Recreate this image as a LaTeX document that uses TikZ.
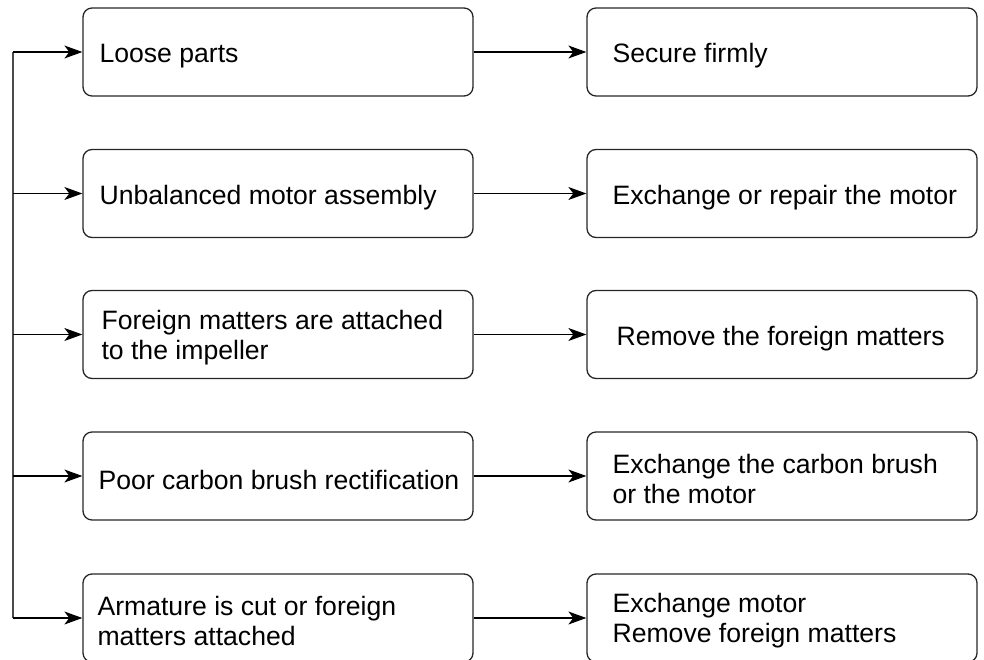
\documentclass[tikz,border=0pt]{standalone}
\usepackage{fontspec}
\setmainfont{Liberation Sans}
\usetikzlibrary{arrows.meta}
\begin{document}
\begin{tikzpicture}[x=1pt,y=-1pt,
  box/.style={draw=black!85, line width=1.3pt, rounded corners=9pt, minimum width=390pt, minimum height=88pt, inner sep=0pt},
  txt/.style={anchor=west, align=left, inner sep=0pt, font=\fontsize{26.6}{30}\selectfont},
  arr/.style={line width=1.1pt, -{Stealth[length=18pt, width=13pt, inset=5pt]}},
  trunk/.style={line width=1.1pt, draw=black!70}]
\useasboundingbox (0,0) rectangle (984,660);
% left boxes
\node[box] (l1) at (278,52) {};
\node[box] (l2) at (278,193.5) {};
\node[box] (l3) at (278,334.5) {};
\node[box] (l4) at (278,476) {};
\node[box] (l5) at (278,618) {};
% right boxes
\node[box] (r1) at (782,52) {};
\node[box] (r2) at (782,193.5) {};
\node[box] (r3) at (782,334.5) {};
\node[box] (r4) at (782,476) {};
\node[box] (r5) at (782,618) {};
% texts
\node[txt] (lt1) at ([xshift=17pt,yshift=-4pt]l1.west) {Loose parts};
\node[txt] (lt2) at ([xshift=17pt,yshift=-4pt]l2.west) {Unbalanced motor assembly};
\node[txt] (lt3) at ([xshift=19pt,yshift=-3pt]l3.west) {Foreign matters are attached\\to the impeller};
\node[txt] (lt4) at ([xshift=16pt,yshift=-4pt]l4.west) {Poor carbon brush rectification};
\node[txt] (lt5) at ([xshift=15pt,yshift=-3pt]l5.west) {Armature is cut or foreign\\matters attached};
\node[txt] (rt1) at ([xshift=26pt,yshift=-4pt]r1.west) {Secure firmly};
\node[txt] (rt2) at ([xshift=26pt,yshift=-4pt]r2.west) {Exchange or repair the motor};
\node[txt] (rt3) at ([xshift=30pt,yshift=-4pt]r3.west) {Remove the foreign matters};
\node[txt] (rt4) at ([xshift=26pt,yshift=-3pt]r4.west) {Exchange the carbon brush\\or the motor};
\node[txt] (rt5) at ([xshift=26pt,yshift=-3pt]r5.west) {Exchange motor\\Remove foreign matters};
% trunk
\coordinate (t1) at (13,52);
\coordinate (t5) at (13,618);
\draw[trunk] (t1) -- (t5);
\foreach \i in {1,...,5}{
  \draw[arr] (t1 |- l\i.west) -- (l\i.west);
  \draw[arr] (l\i.east) -- (r\i.west);
}
\end{tikzpicture}
\end{document}
